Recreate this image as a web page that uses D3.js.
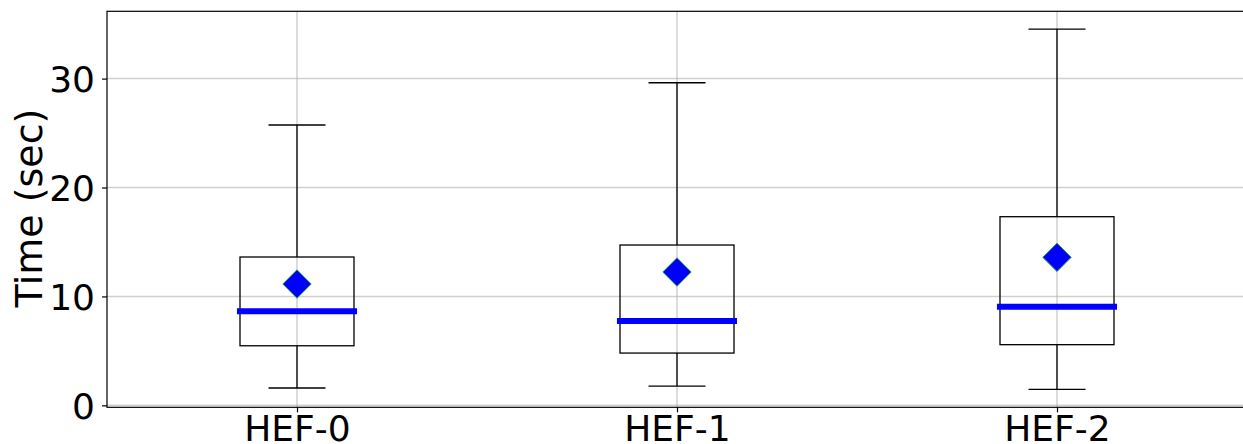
<!DOCTYPE html>
<html><head><meta charset="utf-8">
<script src="https://cdn.jsdelivr.net/npm/d3@7"></script>
<style>body{margin:0;background:#fff}svg{display:block}</style>
</head><body>
<svg id="c" width="1243" height="444"></svg>
<script>
const categories = ["HEF-0", "HEF-1", "HEF-2"];
const whiskerLow  = [1.59, 1.77, 1.47];
const q1          = [5.47, 4.80, 5.57];
const median      = [8.63, 7.74, 9.05];
const q3          = [13.62, 14.72, 17.32];
const whiskerHigh = [25.74, 29.62, 34.55];
const mean        = [11.14, 12.24, 13.59];
const yTicks = [0, 10, 20, 30];

const svg = d3.select("#c");
const L = 107, R = 1247, T = 11.3, B = 407.3;
const x = d3.scaleLinear().domain([0.5, 3.5]).range([L, R]);
const y = d3.scaleLinear().domain([-0.18, 36.18]).range([B, T]);
const font = "DejaVu Sans, sans-serif";

// grid
const g = svg.append("g");
g.selectAll(".gy").data(yTicks).join("line")
  .attr("x1", L).attr("x2", R).attr("y1", d => y(d)).attr("y2", d => y(d))
  .attr("stroke", "#b0b0b0").attr("stroke-opacity", 0.6).attr("stroke-width", 1.5);
g.selectAll(".gx").data(categories).join("line")
  .attr("x1", (d,i) => x(i+1)).attr("x2", (d,i) => x(i+1)).attr("y1", T).attr("y2", B)
  .attr("stroke", "#b0b0b0").attr("stroke-opacity", 0.6).attr("stroke-width", 1.5);

const bw = 0.3, cw = 0.15, mw = 0.316;
const boxes = svg.append("g").selectAll("g").data(categories).join("g");
boxes.append("line").attr("x1",(d,i)=>x(i+1)).attr("x2",(d,i)=>x(i+1))
  .attr("y1",(d,i)=>y(whiskerHigh[i])).attr("y2",(d,i)=>y(q3[i])).attr("stroke","#000").attr("stroke-width",1.3);
boxes.append("line").attr("x1",(d,i)=>x(i+1)).attr("x2",(d,i)=>x(i+1))
  .attr("y1",(d,i)=>y(q1[i])).attr("y2",(d,i)=>y(whiskerLow[i])).attr("stroke","#000").attr("stroke-width",1.3);
boxes.append("line").attr("x1",(d,i)=>x(i+1-cw/2)).attr("x2",(d,i)=>x(i+1+cw/2))
  .attr("y1",(d,i)=>y(whiskerHigh[i])).attr("y2",(d,i)=>y(whiskerHigh[i])).attr("stroke","#000").attr("stroke-width",1.3);
boxes.append("line").attr("x1",(d,i)=>x(i+1-cw/2)).attr("x2",(d,i)=>x(i+1+cw/2))
  .attr("y1",(d,i)=>y(whiskerLow[i])).attr("y2",(d,i)=>y(whiskerLow[i])).attr("stroke","#000").attr("stroke-width",1.3);
boxes.append("rect").attr("x",(d,i)=>x(i+1-bw/2)).attr("width",(d,i)=>x(i+1+bw/2)-x(i+1-bw/2))
  .attr("y",(d,i)=>y(q3[i])).attr("height",(d,i)=>y(q1[i])-y(q3[i]))
  .attr("fill","none").attr("stroke","#000").attr("stroke-width",1.3);
boxes.append("line").attr("x1",(d,i)=>x(i+1-mw/2)).attr("x2",(d,i)=>x(i+1+mw/2))
  .attr("y1",(d,i)=>y(median[i])).attr("y2",(d,i)=>y(median[i])).attr("stroke","#0000ff").attr("stroke-width",6);
const ds = 14.2;
boxes.append("path").attr("d",(d,i)=>{const cx=x(i+1), cy=y(mean[i]);
  return `M${cx},${cy-ds}L${cx+ds},${cy}L${cx},${cy+ds}L${cx-ds},${cy}Z`;})
  .attr("fill","#0000ff").attr("stroke","#2ca02c").attr("stroke-width",1);

// axes
const yAxis = d3.axisLeft(y).tickValues(yTicks).tickSize(5).tickPadding(7);
const ya = svg.append("g").attr("transform",`translate(${L},0)`).call(yAxis);
ya.select(".domain").remove();
ya.selectAll("text").attr("font-family",font).attr("font-size",36).attr("fill","#000").attr("dy","0.36em");
ya.selectAll("line").attr("stroke","#000").attr("stroke-width",1.2);

const xAxis = d3.axisBottom(x).tickValues([1,2,3]).tickFormat((d)=>categories[d-1]).tickSize(5);
const xa = svg.append("g").attr("transform",`translate(0,${B})`).call(xAxis);
xa.select(".domain").remove();
xa.selectAll("text").attr("font-family",font).attr("font-size",36).attr("fill","#000")
  .attr("y", 441.5 - B).attr("dy", 0);
xa.selectAll("line").attr("stroke","#000").attr("stroke-width",1.2);

// spines
svg.append("rect").attr("x",L).attr("y",T).attr("width",R-L).attr("height",B-T)
  .attr("fill","none").attr("stroke","#000").attr("stroke-width",1.2);

svg.append("text").attr("transform",`translate(42,208) rotate(-90)`)
  .attr("text-anchor","middle").attr("font-family",font).attr("font-size",38).attr("fill","#000")
  .text("Time (sec)");
</script>
</body></html>
